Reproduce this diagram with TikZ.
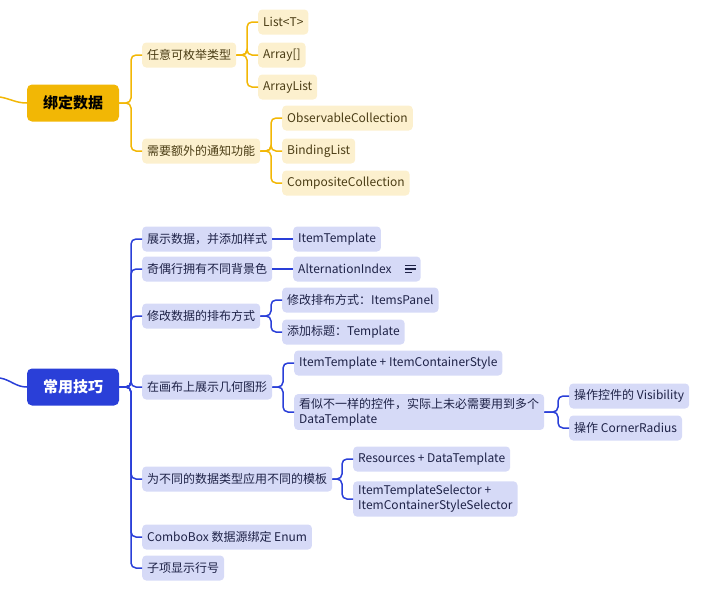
\documentclass[tikz,border=0pt]{standalone}
\usepackage{fontspec}
\setmainfont{Noto Sans CJK SC}
\definecolor{ylline}{HTML}{F2B705}
\definecolor{ylfill}{HTML}{FCF0CE}
\definecolor{yltext}{HTML}{4A3C14}
\definecolor{ylroot}{HTML}{F2B705}
\definecolor{blline}{HTML}{2A3FD8}
\definecolor{blfill}{HTML}{D6DAF7}
\definecolor{bltext}{HTML}{1E2247}
\definecolor{blroot}{HTML}{2A3FD8}
\begin{document}
\begin{tikzpicture}[x=1pt,y=-1pt,
  base/.style={rounded corners=4pt, inner xsep=5pt, inner ysep=3pt, minimum height=25pt, anchor=west, font=\fontsize{12}{15}\selectfont, align=left},
  ynode/.style={base, fill=ylfill, text=yltext},
  bnode/.style={base, fill=blfill, text=bltext},
  rootbox/.style={rounded corners=5pt, minimum width=92pt, minimum height=37pt, font=\fontsize{15}{18}\selectfont\bfseries},
  yroot/.style={rootbox, fill=ylroot, text=black},
  broot/.style={rootbox, fill=blroot, text=white},
  yline/.style={draw=ylline, line width=1.5pt, rounded corners=5pt},
  bline/.style={draw=blline, line width=1.5pt, rounded corners=5pt}]
\useasboundingbox (0,0) rectangle (717,605);

% ---------- yellow branch ----------
\node[yroot] (r1) at (73,103) {绑定数据};
\node[ynode] (a1) at (142,55) {任意可枚举类型};
\node[ynode] (a2) at (142,151) {需要额外的通知功能};
\node[ynode] (a11) at (258,22) {List<T>};
\node[ynode] (a12) at (258,55) {Array[]};
\node[ynode] (a13) at (258,87) {ArrayList};
\node[ynode] (a21) at (282,118) {ObservableCollection};
\node[ynode] (a22) at (282,151) {BindingList};
\node[ynode] (a23) at (282,183) {CompositeCollection};

\coordinate (s1) at (0,97);
\draw[yline] (s1) to[out=-10,in=180] (r1.west);
\foreach \c in {a1,a2} \draw[yline] (r1.east) -| ([xshift=-11pt]\c.west) -- (\c.west);
\foreach \c in {a11,a12,a13} \draw[yline] (a1.east) -| ([xshift=-11pt]\c.west) -- (\c.west);
\foreach \c in {a21,a22,a23} \draw[yline] (a2.east) -| ([xshift=-11pt]\c.west) -- (\c.west);

% ---------- blue branch ----------
\node[broot] (r2) at (73,387) {常用技巧};
\node[bnode] (b1) at (142,239) {展示数据，并添加样式};
\node[bnode] (b2) at (142,269) {奇偶行拥有不同背景色};
\node[bnode] (b3) at (142,316) {修改数据的排布方式};
\node[bnode] (b4) at (142,387) {在画布上展示几何图形};
\node[bnode] (b5) at (142,479) {为不同的数据类型应用不同的模板};
\node[bnode] (b6) at (142,537) {ComboBox 数据源绑定 Enum};
\node[bnode] (b7) at (142,568) {子项显示行号};

\node[bnode] (b11) at (293,239) {ItemTemplate};
\node[bnode] (b21) at (293,269) {AlternationIndex\hspace{24pt}};
\node[bnode] (b31) at (282,300) {修改排布方式：ItemsPanel};
\node[bnode] (b32) at (282,332) {添加标题：Template};
\node[bnode] (b41) at (294,363) {ItemTemplate + ItemContainerStyle};
\node[bnode, inner ysep=4pt] (b42) at (294,412) {看似不一样的控件，实际上未必需要用到多个\\DataTemplate};
\node[bnode] (b421) at (569,396) {操作控件的 Visibility};
\node[bnode] (b422) at (569,428) {操作 CornerRadius};
\node[bnode] (b51) at (353,459) {Resources + DataTemplate};
\node[bnode, inner ysep=4pt] (b52) at (353,499) {ItemTemplateSelector +\\ItemContainerStyleSelector};

\coordinate (s2) at (0,378);
\draw[bline] (s2) to[out=-10,in=180] (r2.west);
\foreach \c in {b1,b2,b3,b4,b5,b6,b7} \draw[bline] (r2.east) -| ([xshift=-11pt]\c.west) -- (\c.west);
\draw[bline] (b1.east) -- (b11.west);
\draw[bline] (b2.east) -- (b21.west);
\foreach \c in {b31,b32} \draw[bline] (b3.east) -| ([xshift=-11pt]\c.west) -- (\c.west);
\foreach \c in {b41,b42} \draw[bline] (b4.east) -| ([xshift=-11pt]\c.west) -- (\c.west);
\foreach \c in {b421,b422} \draw[bline] (b42.east) -| ([xshift=-11pt]\c.west) -- (\c.west);
\foreach \c in {b51,b52} \draw[bline] (b5.east) -| ([xshift=-11pt]\c.west) -- (\c.west);

% notes icon
\draw[bltext, line width=1.1pt] ([xshift=-16pt,yshift=3.5pt]b21.east) -- ++(11,0)
  ([xshift=-16pt]b21.east) -- ++(11,0)
  ([xshift=-16pt,yshift=-3.5pt]b21.east) -- ++(7,0);
\end{tikzpicture}
\end{document}
